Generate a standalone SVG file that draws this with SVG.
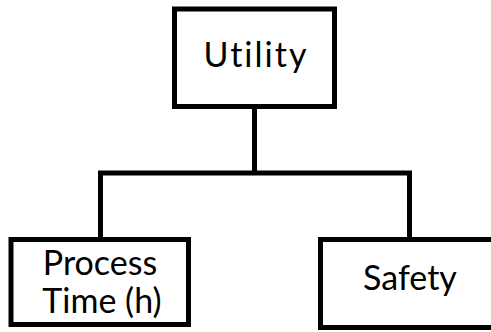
<svg xmlns="http://www.w3.org/2000/svg" width="491" height="332" viewBox="0 0 491 332">
  <style>
    .box { fill: #ffffff; stroke: #000000; stroke-width: 5; }
    .wire { fill: none; stroke: #000000; stroke-width: 5; stroke-linejoin: miter; }
    .label { font-family: Lato, "Open Sans", sans-serif; font-size: 34px; fill: #000000; text-anchor: middle; font-variant-ligatures: none; }
  </style>
  <rect width="491" height="332" fill="#ffffff"/>

  <!-- tree connectors -->
  <g id="connectors">
    <line class="wire" x1="254.5" y1="106.5" x2="254.5" y2="173"/>
    <polyline class="wire" points="100.5,239.5 100.5,173 409.5,173 409.5,239.5"/>
  </g>

  <g id="node-utility">
    <rect class="box" x="174.5" y="9" width="160" height="97.5"/>
    <text class="label" x="256" y="67" letter-spacing="2">Utility</text>
  </g>

  <g id="node-process-time">
    <rect class="box" x="11" y="239.5" width="177.5" height="85"/>
    <text class="label" x="100" y="275">Process</text>
    <text class="label" x="102" y="313">Time (h)</text>
  </g>

  <g id="node-safety">
    <rect class="box" x="320.5" y="239.5" width="190" height="88"/>
    <text class="label" x="410" y="290">Safety</text>
  </g>
</svg>
